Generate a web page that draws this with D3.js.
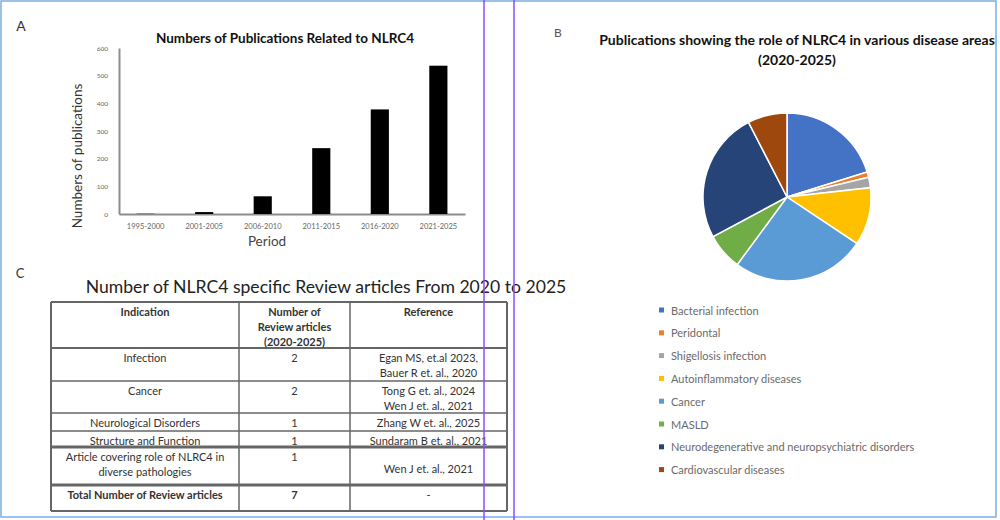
<!DOCTYPE html>
<html>
<head>
<meta charset="utf-8">
<script src="https://cdn.jsdelivr.net/npm/d3@7"></script>
<style>
body { margin: 0; background: #fff; }
svg { display: block; font-family: Lato, "Open Sans", sans-serif; }
</style>
</head>
<body>
<svg></svg>
<script>
const [WIDTH, HEIGHT] = [1000, 520]

// panel A - publications per period
const periods = ["1995-2000", "2001-2005", "2006-2010", "2011-2015", "2016-2020", "2021-2025"]
const pubCounts = [1, 7, 64, 238, 378, 536]
const yTicks = [0, 100, 200, 300, 400, 500, 600]

// panel B - disease areas (2020-2025)
const diseases = ["Bacterial infection", "Peridontal", "Shigellosis infection", "Autoinflammatory diseases",
    "Cancer", "MASLD", "Neurodegenerative and neuropsychiatric disorders", "Cardiovascular diseases"]
const diseaseShares = [20, 1, 2, 11, 25.5, 7, 25, 7.5]
const diseaseColors = ["#4472C4", "#ED7D31", "#A5A5A5", "#FFC000", "#5B9BD5", "#70AD47", "#264478", "#9E480E"]

// panel C - review articles table
const tableHeaders = [["Indication"], ["Number of", "Review articles", "(2020-2025)"], ["Reference"]]
const indications = [["Infection"], ["Cancer"], ["Neurological Disorders"], ["Structure and Function"],
    ["Article covering role of NLRC4 in", "diverse pathologies"], ["Total Number of Review articles"]]
const reviewCounts = ["2", "2", "1", "1", "1", "7"]
const references = [["Egan MS, et.al 2023,", "Bauer R et. al., 2020"], ["Tong G et. al., 2024", "Wen J et. al., 2021"],
    ["Zhang W et. al., 2025"], ["Sundaram B et. al., 2021"], ["Wen J et. al., 2021"], ["-"]]

const svg = d3.select("svg")
    .attr("viewBox", "0 0 " + WIDTH + " " + HEIGHT)
    .attr("width", WIDTH)
    .attr("height", HEIGHT)

function label(g, txt, x, y, size, opts = {}) {
    return g.append("text")
        .attr("x", x).attr("y", y)
        .attr("dominant-baseline", "central")
        .attr("text-anchor", opts.anchor || "middle")
        .attr("font-size", size)
        .attr("font-weight", opts.bold ? "bold" : null)
        .attr("fill", opts.color || "#222")
        .text(txt)
}

// ---------- A: bar chart ----------
const gA = svg.append("g")
label(gA, "A", 21, 25, 14, { color: "#333" })
label(gA, "Numbers of Publications Related to NLRC4", 285, 38, 13.5, { bold: true, color: "#111" })

const x = d3.scaleBand().domain(periods).range([119, 465]).paddingInner(0.69).paddingOuter(0.3)
const y = d3.scaleLinear().domain([0, 600]).range([214, 48])

gA.append("g")
    .attr("transform", "translate(119,0)")
    .call(d3.axisLeft(y).tickValues(yTicks).tickSize(0).tickPadding(11))
    .call(g => g.select(".domain").attr("stroke", "#8c8c8c").attr("stroke-width", 2))
    .call(g => g.selectAll("text").attr("font-size", 6.5).attr("fill", "#666").attr("font-family", "Lato, sans-serif"))

gA.append("g")
    .attr("transform", "translate(0,214)")
    .call(d3.axisBottom(x).tickSize(0).tickPadding(10))
    .call(g => g.select(".domain").attr("stroke", "#8c8c8c").attr("stroke-width", 2))
    .call(g => g.selectAll("text").attr("font-size", 7.5).attr("fill", "#666").attr("font-family", "Lato, sans-serif"))

gA.append("g")
    .selectAll("rect")
    .data(periods)
    .join("rect")
    .attr("x", d => x(d))
    .attr("width", x.bandwidth())
    .attr("y", (d, i) => y(pubCounts[i]))
    .attr("height", (d, i) => y(0) - y(pubCounts[i]))
    .attr("fill", "#000")

label(gA, "Period", 267, 241, 13.5, { color: "#444" })
label(gA, "Numbers of publications", 0, 0, 13.5, { color: "#333" })
    .attr("transform", "translate(77,156) rotate(-90)")

// ---------- B: pie ----------
const gB = svg.append("g")
label(gB, "B", 558, 32, 12, { color: "#555" })
label(gB, "Publications showing the role of NLRC4 in various disease areas", 797, 39, 14, { bold: true, color: "#111" })
label(gB, "(2020-2025)", 797, 59, 14, { bold: true, color: "#111" })

const pie = d3.pie().sort(null)
const arc = d3.arc().innerRadius(0).outerRadius(84)

gB.append("g")
    .attr("transform", "translate(787,197)")
    .selectAll("path")
    .data(pie(diseaseShares))
    .join("path")
    .attr("d", arc)
    .attr("fill", (d, i) => diseaseColors[i])
    .attr("stroke", "#fff")
    .attr("stroke-width", 1.5)

const legend = gB.append("g")
    .selectAll("g")
    .data(diseases)
    .join("g")
    .attr("transform", (d, i) => "translate(662," + (310 + i * 22.8) + ")")
legend.append("rect")
    .attr("x", -3).attr("y", -2.5)
    .attr("width", 5).attr("height", 5)
    .attr("fill", (d, i) => diseaseColors[i])
legend.append("text")
    .attr("x", 9)
    .attr("dominant-baseline", "central")
    .attr("font-size", 11)
    .attr("fill", "#6a6a6a")
    .text(d => d)

// ---------- C: table ----------
const gC = svg.append("g")
label(gC, "C", 20, 273, 13, { color: "#333" })
label(gC, "Number of NLRC4 specific Review articles From 2020 to 2025", 326, 286, 17.6, { color: "#222" })

const colX = [51, 239, 350, 507]
const rowY = [302, 348, 381, 413, 431, 447, 485, 511]
const rowLineW = [2, 2, 1.5, 1.5, 1.5, 3, 3, 2]
const LINE_H = 15

gC.append("g").selectAll("line")
    .data(rowY)
    .join("line")
    .attr("x1", colX[0]).attr("x2", colX[3])
    .attr("y1", d => d).attr("y2", d => d)
    .attr("stroke", "#666")
    .attr("stroke-width", (d, i) => rowLineW[i])
gC.append("g").selectAll("line")
    .data(colX)
    .join("line")
    .attr("x1", d => d).attr("x2", d => d)
    .attr("y1", rowY[0]).attr("y2", rowY[rowY.length - 1])
    .attr("stroke", "#666")
    .attr("stroke-width", (d, i) => i == 0 || i == 3 ? 2 : 1.5)

function cell(lines, col, row, bold, centred) {
    const cx = (colX[col] + colX[col + 1]) / 2
    const top = rowY[row], bottom = rowY[row + 1]
    const y0 = centred ? (top + bottom) / 2 - (lines.length - 1) * LINE_H / 2 + 2 : top + 9
    lines.forEach((t, k) => label(gC, t, cx, y0 + k * LINE_H, 11, { bold: bold, color: "#333" }))
}

tableHeaders.forEach((h, c) => cell(h, c, 0, true, false))
indications.forEach((ind, r) => {
    const last = r == indications.length - 1
    cell(ind, 0, r + 1, last, false)
    cell([reviewCounts[r]], 1, r + 1, last, false)
    cell(references[r], 2, r + 1, false, references[r].length < ind.length)
})

// ---------- frame lines ----------
svg.append("rect")
    .attr("x", 1).attr("y", 1)
    .attr("width", 995).attr("height", 516)
    .attr("fill", "none")
    .attr("stroke", "#7aaee0")
    .attr("stroke-width", 1.5)
svg.append("g").selectAll("line")
    .data([484, 514])
    .join("line")
    .attr("x1", d => d).attr("x2", d => d)
    .attr("y1", 0).attr("y2", HEIGHT)
    .attr("stroke", "#8a4fff")
    .attr("stroke-width", 1.5)
</script>
</body>
</html>
